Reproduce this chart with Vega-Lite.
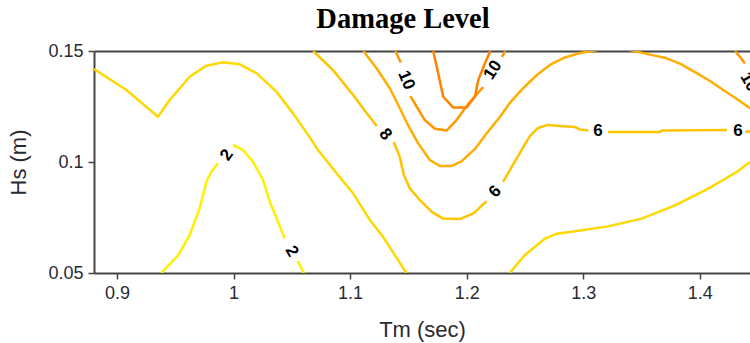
{
  "$schema": "https://vega.github.io/schema/vega-lite/v6.json",
  "width": 656,
  "height": 222,
  "autosize": {"type": "none"},
  "padding": {"left": 94, "top": 51, "right": 0, "bottom": 70},
  "background": "white",
  "config": {
    "view": {"stroke": null},
    "axis": {
      "grid": false,
      "domainColor": "#444444",
      "domainWidth": 2,
      "tickColor": "#444444",
      "tickWidth": 1.5,
      "tickSize": 6,
      "labelFont": "Liberation Sans",
      "labelFontSize": 18,
      "labelColor": "#2a2a33",
      "labelFlush": false,
      "labelOverlap": false,
      "labelBound": false,
      "titleFont": "Liberation Sans",
      "titleFontSize": 22,
      "titleFontWeight": "normal",
      "titleColor": "#2a2a33"
    }
  },
  "title": {
    "text": "Damage Level",
    "font": "Liberation Serif",
    "fontSize": 28.5,
    "fontWeight": "bold",
    "color": "#000000",
    "frame": "group",
    "anchor": "middle",
    "dx": -19,
    "baseline": "alphabetic",
    "offset": -14
  },
  "datasets": {
    "contours": [
      {"seg": "4a", "level": 4, "Tm": 0.8803, "Hs": 0.1419},
      {"seg": "4a", "level": 4, "Tm": 0.9081, "Hs": 0.1324},
      {"seg": "4a", "level": 4, "Tm": 0.9352, "Hs": 0.1204},
      {"seg": "4a", "level": 4, "Tm": 0.9452, "Hs": 0.1279},
      {"seg": "4a", "level": 4, "Tm": 0.9624, "Hs": 0.1384},
      {"seg": "4a", "level": 4, "Tm": 0.9767, "Hs": 0.1434},
      {"seg": "4a", "level": 4, "Tm": 0.9910, "Hs": 0.1449},
      {"seg": "4a", "level": 4, "Tm": 1.0053, "Hs": 0.1440},
      {"seg": "4a", "level": 4, "Tm": 1.0197, "Hs": 0.1400},
      {"seg": "4a", "level": 4, "Tm": 1.0368, "Hs": 0.1317},
      {"seg": "4a", "level": 4, "Tm": 1.0511, "Hs": 0.1219},
      {"seg": "4a", "level": 4, "Tm": 1.0640, "Hs": 0.1122},
      {"seg": "4a", "level": 4, "Tm": 1.0725, "Hs": 0.1054},
      {"seg": "4a", "level": 4, "Tm": 1.0897, "Hs": 0.0941},
      {"seg": "4a", "level": 4, "Tm": 1.1026, "Hs": 0.0859},
      {"seg": "4a", "level": 4, "Tm": 1.1169, "Hs": 0.0739},
      {"seg": "4a", "level": 4, "Tm": 1.1283, "Hs": 0.0663},
      {"seg": "4a", "level": 4, "Tm": 1.1484, "Hs": 0.0499},

      {"seg": "4b", "level": 4, "Tm": 1.2369, "Hs": 0.0500},
      {"seg": "4b", "level": 4, "Tm": 1.2498, "Hs": 0.0580},
      {"seg": "4b", "level": 4, "Tm": 1.2670, "Hs": 0.0654},
      {"seg": "4b", "level": 4, "Tm": 1.2772, "Hs": 0.0677},
      {"seg": "4b", "level": 4, "Tm": 1.2929, "Hs": 0.0688},
      {"seg": "4b", "level": 4, "Tm": 1.3214, "Hs": 0.0710},
      {"seg": "4b", "level": 4, "Tm": 1.3501, "Hs": 0.0745},
      {"seg": "4b", "level": 4, "Tm": 1.3787, "Hs": 0.0805},
      {"seg": "4b", "level": 4, "Tm": 1.4073, "Hs": 0.0880},
      {"seg": "4b", "level": 4, "Tm": 1.4317, "Hs": 0.0955},
      {"seg": "4b", "level": 4, "Tm": 1.4431, "Hs": 0.1000},

      {"seg": "2a", "level": 2, "Tm": 0.9381, "Hs": 0.0500},
      {"seg": "2a", "level": 2, "Tm": 0.9524, "Hs": 0.0579},
      {"seg": "2a", "level": 2, "Tm": 0.9624, "Hs": 0.0671},
      {"seg": "2a", "level": 2, "Tm": 0.9710, "Hs": 0.0791},
      {"seg": "2a", "level": 2, "Tm": 0.9767, "Hs": 0.0911},
      {"seg": "2a", "level": 2, "Tm": 0.9810, "Hs": 0.0956},
      {"seg": "2a", "level": 2, "Tm": 0.9867, "Hs": 0.0994},
      {"seg": "2b", "level": 2, "Tm": 0.9996, "Hs": 0.1077},
      {"seg": "2b", "level": 2, "Tm": 1.0082, "Hs": 0.1054},
      {"seg": "2b", "level": 2, "Tm": 1.0167, "Hs": 0.1001},
      {"seg": "2b", "level": 2, "Tm": 1.0253, "Hs": 0.0919},
      {"seg": "2b", "level": 2, "Tm": 1.0311, "Hs": 0.0821},
      {"seg": "2b", "level": 2, "Tm": 1.0382, "Hs": 0.0731},
      {"seg": "2b", "level": 2, "Tm": 1.0439, "Hs": 0.0656},
      {"seg": "2c", "level": 2, "Tm": 1.0551, "Hs": 0.0554},
      {"seg": "2c", "level": 2, "Tm": 1.0603, "Hs": 0.0500},

      {"seg": "6a", "level": 6, "Tm": 1.0683, "Hs": 0.1500},
      {"seg": "6a", "level": 6, "Tm": 1.0854, "Hs": 0.1414},
      {"seg": "6a", "level": 6, "Tm": 1.1026, "Hs": 0.1302},
      {"seg": "6a", "level": 6, "Tm": 1.1135, "Hs": 0.1225},
      {"seg": "6a", "level": 6, "Tm": 1.1229, "Hs": 0.1162},
      {"seg": "6b", "level": 6, "Tm": 1.1375, "Hs": 0.1090},
      {"seg": "6b", "level": 6, "Tm": 1.1427, "Hs": 0.1022},
      {"seg": "6b", "level": 6, "Tm": 1.1461, "Hs": 0.0941},
      {"seg": "6b", "level": 6, "Tm": 1.1513, "Hs": 0.0881},
      {"seg": "6b", "level": 6, "Tm": 1.1598, "Hs": 0.0829},
      {"seg": "6b", "level": 6, "Tm": 1.1701, "Hs": 0.0775},
      {"seg": "6b", "level": 6, "Tm": 1.1798, "Hs": 0.0745},
      {"seg": "6b", "level": 6, "Tm": 1.1942, "Hs": 0.0743},
      {"seg": "6b", "level": 6, "Tm": 1.2062, "Hs": 0.0770},
      {"seg": "6b", "level": 6, "Tm": 1.2171, "Hs": 0.0824},
      {"seg": "6c", "level": 6, "Tm": 1.2313, "Hs": 0.0910},
      {"seg": "6c", "level": 6, "Tm": 1.2388, "Hs": 0.0979},
      {"seg": "6c", "level": 6, "Tm": 1.2471, "Hs": 0.1054},
      {"seg": "6c", "level": 6, "Tm": 1.2542, "Hs": 0.1117},
      {"seg": "6c", "level": 6, "Tm": 1.2611, "Hs": 0.1153},
      {"seg": "6c", "level": 6, "Tm": 1.2697, "Hs": 0.1167},
      {"seg": "6c", "level": 6, "Tm": 1.2800, "Hs": 0.1162},
      {"seg": "6c", "level": 6, "Tm": 1.2929, "Hs": 0.1158},
      {"seg": "6c", "level": 6, "Tm": 1.2971, "Hs": 0.1146},
      {"seg": "6c", "level": 6, "Tm": 1.3045, "Hs": 0.1142},
      {"seg": "6d", "level": 6, "Tm": 1.3212, "Hs": 0.1135},
      {"seg": "6d", "level": 6, "Tm": 1.3658, "Hs": 0.1135},
      {"seg": "6d", "level": 6, "Tm": 1.3675, "Hs": 0.1142},
      {"seg": "6d", "level": 6, "Tm": 1.4233, "Hs": 0.1144},
      {"seg": "6e", "level": 6, "Tm": 1.4388, "Hs": 0.1137},
      {"seg": "6e", "level": 6, "Tm": 1.4431, "Hs": 0.1137},

      {"seg": "8a", "level": 8, "Tm": 1.1114, "Hs": 0.1500},
      {"seg": "8a", "level": 8, "Tm": 1.1227, "Hs": 0.1422},
      {"seg": "8a", "level": 8, "Tm": 1.1341, "Hs": 0.1332},
      {"seg": "8a", "level": 8, "Tm": 1.1427, "Hs": 0.1242},
      {"seg": "8a", "level": 8, "Tm": 1.1496, "Hs": 0.1167},
      {"seg": "8a", "level": 8, "Tm": 1.1584, "Hs": 0.1084},
      {"seg": "8a", "level": 8, "Tm": 1.1684, "Hs": 0.1009},
      {"seg": "8a", "level": 8, "Tm": 1.1770, "Hs": 0.0982},
      {"seg": "8a", "level": 8, "Tm": 1.1873, "Hs": 0.0982},
      {"seg": "8a", "level": 8, "Tm": 1.1959, "Hs": 0.1004},
      {"seg": "8a", "level": 8, "Tm": 1.2071, "Hs": 0.1059},
      {"seg": "8a", "level": 8, "Tm": 1.2174, "Hs": 0.1131},
      {"seg": "8a", "level": 8, "Tm": 1.2285, "Hs": 0.1203},
      {"seg": "8a", "level": 8, "Tm": 1.2371, "Hs": 0.1266},
      {"seg": "8a", "level": 8, "Tm": 1.2485, "Hs": 0.1333},
      {"seg": "8a", "level": 8, "Tm": 1.2603, "Hs": 0.1392},
      {"seg": "8a", "level": 8, "Tm": 1.2714, "Hs": 0.1437},
      {"seg": "8a", "level": 8, "Tm": 1.2843, "Hs": 0.1471},
      {"seg": "8a", "level": 8, "Tm": 1.2971, "Hs": 0.1491},
      {"seg": "8a", "level": 8, "Tm": 1.3117, "Hs": 0.1504},
      {"seg": "8a", "level": 8, "Tm": 1.3255, "Hs": 0.1514},
      {"seg": "8a", "level": 8, "Tm": 1.3401, "Hs": 0.1504},
      {"seg": "8a", "level": 8, "Tm": 1.3555, "Hs": 0.1486},
      {"seg": "8a", "level": 8, "Tm": 1.3716, "Hs": 0.1467},
      {"seg": "8a", "level": 8, "Tm": 1.3839, "Hs": 0.1441},
      {"seg": "8a", "level": 8, "Tm": 1.3973, "Hs": 0.1400},
      {"seg": "8a", "level": 8, "Tm": 1.4088, "Hs": 0.1365},
      {"seg": "8a", "level": 8, "Tm": 1.4202, "Hs": 0.1324},
      {"seg": "8a", "level": 8, "Tm": 1.4319, "Hs": 0.1284},
      {"seg": "8a", "level": 8, "Tm": 1.4431, "Hs": 0.1242},

      {"seg": "10a", "level": 10, "Tm": 1.1388, "Hs": 0.1500},
      {"seg": "10a", "level": 10, "Tm": 1.1435, "Hs": 0.1448},
      {"seg": "10b", "level": 10, "Tm": 1.1517, "Hs": 0.1297},
      {"seg": "10b", "level": 10, "Tm": 1.1581, "Hs": 0.1241},
      {"seg": "10b", "level": 10, "Tm": 1.1641, "Hs": 0.1189},
      {"seg": "10b", "level": 10, "Tm": 1.1727, "Hs": 0.1150},
      {"seg": "10b", "level": 10, "Tm": 1.1830, "Hs": 0.1142},
      {"seg": "10b", "level": 10, "Tm": 1.1907, "Hs": 0.1185},
      {"seg": "10b", "level": 10, "Tm": 1.2013, "Hs": 0.1261},
      {"seg": "10b", "level": 10, "Tm": 1.2142, "Hs": 0.1338},
      {"seg": "10c", "level": 10, "Tm": 1.2302, "Hs": 0.1473},
      {"seg": "10c", "level": 10, "Tm": 1.2332, "Hs": 0.1500},
      {"seg": "10d", "level": 10, "Tm": 1.4303, "Hs": 0.1500},
      {"seg": "10d", "level": 10, "Tm": 1.4346, "Hs": 0.1473},
      {"seg": "10d", "level": 10, "Tm": 1.4388, "Hs": 0.1444},

      {"seg": "12a", "level": 12, "Tm": 1.1713, "Hs": 0.1500},
      {"seg": "12a", "level": 12, "Tm": 1.1756, "Hs": 0.1400},
      {"seg": "12a", "level": 12, "Tm": 1.1799, "Hs": 0.1294},
      {"seg": "12a", "level": 12, "Tm": 1.1885, "Hs": 0.1245},
      {"seg": "12a", "level": 12, "Tm": 1.1999, "Hs": 0.1245},
      {"seg": "12a", "level": 12, "Tm": 1.2071, "Hs": 0.1294},
      {"seg": "12a", "level": 12, "Tm": 1.2100, "Hs": 0.1369},
      {"seg": "12a", "level": 12, "Tm": 1.2157, "Hs": 0.1445},
      {"seg": "12a", "level": 12, "Tm": 1.2203, "Hs": 0.1500}
    ],
    "labels": [
      {"Tm": 0.9942, "Hs": 0.1031, "text": "2", "angle": -55},
      {"Tm": 1.0500, "Hs": 0.0597, "text": "2", "angle": 60},
      {"Tm": 1.1302, "Hs": 0.1124, "text": "8", "angle": 50},
      {"Tm": 1.2246, "Hs": 0.0867, "text": "6", "angle": -48},
      {"Tm": 1.3126, "Hs": 0.1140, "text": "6", "angle": 0},
      {"Tm": 1.4328, "Hs": 0.1140, "text": "6", "angle": 0},
      {"Tm": 1.1482, "Hs": 0.1369, "text": "10", "angle": 68},
      {"Tm": 1.2225, "Hs": 0.1414, "text": "10", "angle": -57},
      {"Tm": 1.4422, "Hs": 0.1360, "text": "10", "angle": 60}
    ]
  },
  "layer": [
    {
      "data": {"name": "contours"},
      "mark": {"type": "line", "clip": true, "strokeWidth": 2.5, "strokeJoin": "round"},
      "encoding": {
        "x": {
          "field": "Tm",
          "type": "quantitative",
          "scale": {"domain": [0.8803, 1.4431], "nice": false, "zero": false},
          "axis": {
            "orient": "bottom",
            "values": [0.9, 1, 1.1, 1.2, 1.3, 1.4],
            "format": "~g",
            "labelPadding": 5,
            "title": "Tm (sec)",
            "titlePadding": 17
          }
        },
        "y": {
          "field": "Hs",
          "type": "quantitative",
          "scale": {"domain": [0.05, 0.15], "nice": false, "zero": false},
          "axis": {
            "values": [0.05, 0.1, 0.15],
            "format": "~g",
            "labelPadding": 5,
            "title": "Hs (m)",
            "titlePadding": 17
          }
        },
        "color": {
          "field": "level",
          "type": "ordinal",
          "scale": {
            "domain": [2, 4, 6, 8, 10, 12],
            "range": ["#FFF000", "#FFD800", "#FFC400", "#FFAE00", "#FF9800", "#FF8200"]
          },
          "legend": null
        },
        "detail": {"field": "seg"}
      }
    },
    {
      "data": {"name": "labels"},
      "mark": {
        "type": "text",
        "font": "Liberation Sans",
        "fontWeight": "bold",
        "fontSize": 17,
        "color": "#000000",
        "align": "center",
        "baseline": "middle"
      },
      "encoding": {
        "x": {
          "field": "Tm",
          "type": "quantitative",
          "axis": {"orient": "top", "labels": false, "ticks": false, "title": null}
        },
        "y": {"field": "Hs", "type": "quantitative"},
        "text": {"field": "text"},
        "angle": {"field": "angle", "type": "quantitative", "scale": null}
      }
    }
  ],
  "resolve": {"axis": {"x": "independent"}}
}
